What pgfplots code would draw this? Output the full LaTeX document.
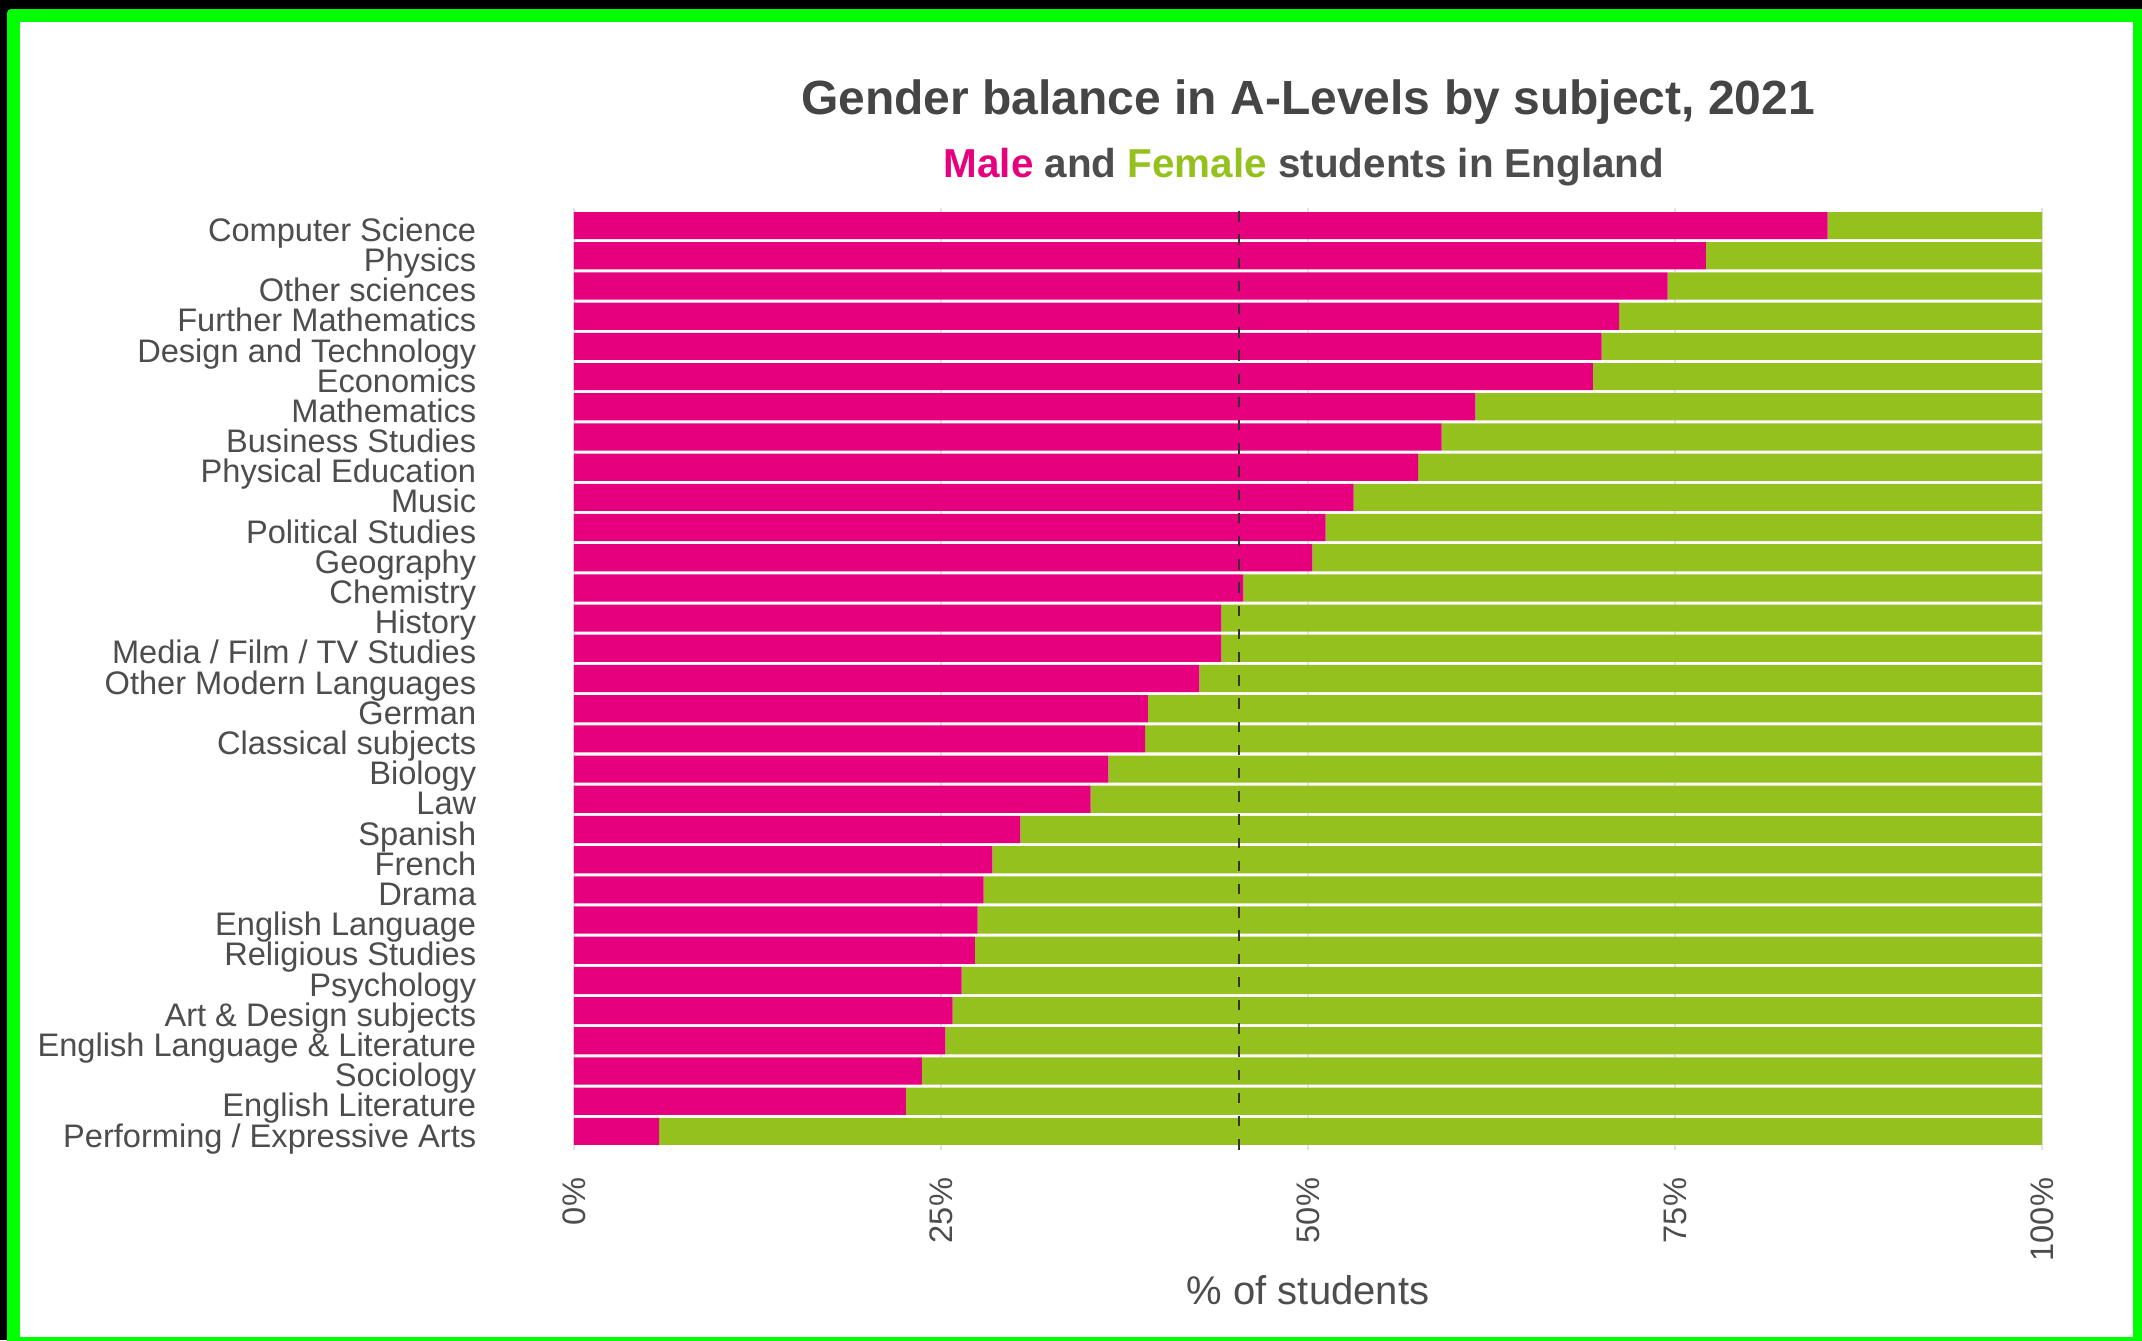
\documentclass[border=0pt]{standalone}
\usepackage{fontspec}
\setmainfont{Liberation Sans}
\usepackage{pgfplots}
\pgfplotsset{compat=1.18}
\definecolor{male}{HTML}{E6007E}
\definecolor{female}{HTML}{95C11F}
\definecolor{txt}{HTML}{4D4D4D}
\definecolor{ttl}{HTML}{454545}
\definecolor{gridc}{HTML}{E3E3E3}
\definecolor{framegreen}{HTML}{00FF00}
\definecolor{dashc}{HTML}{333333}

\begin{document}
\begin{tikzpicture}
\useasboundingbox (0,0) rectangle (535.5pt,-335pt);
\fill[black] (0,0) rectangle (535.5pt,-335pt);
\fill[framegreen, rounded corners=1pt] (1.75pt,-2.25pt) rectangle (545pt,-345pt);
\fill[white] (5pt,-5.5pt) rectangle (533.25pt,-334.25pt);
\begin{axis}[
  at={(143.5pt,-287.375pt)}, anchor=south west,
  width=367pt, height=235.5pt, scale only axis,
  xbar stacked, bar width=0.9,
  xmin=0, xmax=100, ymin=-0.6, ymax=30.6,
  axis line style={draw=none},
  major tick length=0pt,
  xtick={0,25,50,75,100},
  xticklabels={0\%,25\%,50\%,75\%,100\%},
  ytick={0,1,...,30},
  yticklabels={Performing / Expressive Arts, English Literature, Sociology, English Language \& Literature, Art \& Design subjects, Psychology, Religious Studies, English Language, Drama, French, Spanish, Law, Biology, Classical subjects, German, Other Modern Languages, Media / Film / TV Studies, History, Chemistry, Geography, Political Studies, Music, Physical Education, Business Studies, Mathematics, Economics, Design and Technology, Further Mathematics, Other sciences, Physics, Computer Science},
  xmajorgrids, ymajorgrids=false,
  major grid style={gridc, line width=0.6pt},
  tick label style={font=\fontsize{8.15pt}{9pt}\selectfont, text=txt, inner sep=0pt},
  yticklabel style={anchor=base east, yshift=-3.9pt},
  yticklabel shift=24.25pt,
  xticklabel style={rotate=90, anchor=east},
  xticklabel shift=6.9pt,
  clip=false,
]
\addplot[fill=male, draw=none] coordinates {
(5.8,0) (22.6,1) (23.7,2) (25.3,3) (25.8,4) (26.4,5) (27.3,6) (27.5,7) (27.9,8) (28.5,9)
(30.4,10) (35.2,11) (36.4,12) (38.9,13) (39.1,14) (42.6,15) (44.1,16) (44.1,17) (45.6,18) (50.3,19)
(51.2,20) (53.1,21) (57.5,22) (59.1,23) (61.4,24) (69.4,25) (70.0,26) (71.2,27) (74.5,28) (77.1,29) (85.4,30)};
\addplot[fill=female, draw=none] coordinates {
(94.2,0) (77.4,1) (76.3,2) (74.7,3) (74.2,4) (73.6,5) (72.7,6) (72.5,7) (72.1,8) (71.5,9)
(69.6,10) (64.8,11) (63.6,12) (61.1,13) (60.9,14) (57.4,15) (55.9,16) (55.9,17) (54.4,18) (49.7,19)
(48.8,20) (46.9,21) (42.5,22) (40.9,23) (38.6,24) (30.6,25) (30.0,26) (28.8,27) (25.5,28) (22.9,29) (14.6,30)};
\end{axis}
\begin{axis}[
  at={(143.5pt,-287.375pt)}, anchor=south west,
  width=367pt, height=235.5pt, scale only axis,
  xmin=0, xmax=100, ymin=-0.6, ymax=30.6,
  hide axis, clip=false,
]
\addplot[dashc, line width=0.6pt, dash pattern=on 2.6pt off 3.2pt, no markers] coordinates {(45.3,-0.6) (45.3,30.6)};
\end{axis}
\node[anchor=base, text=ttl, font=\fontsize{12pt}{14pt}\selectfont\bfseries] at (327pt,-28.5pt) {Gender balance in A-Levels by subject, 2021};
\node[anchor=base, text=txt, font=\fontsize{10.1pt}{12pt}\selectfont\bfseries] at (326pt,-44.25pt) {\textcolor{male}{Male} and \textcolor{female}{Female} students in England};
\node[anchor=base, text=txt, font=\fontsize{10pt}{12pt}\selectfont] at (327pt,-326pt) {\% of students};
\end{tikzpicture}
\end{document}
